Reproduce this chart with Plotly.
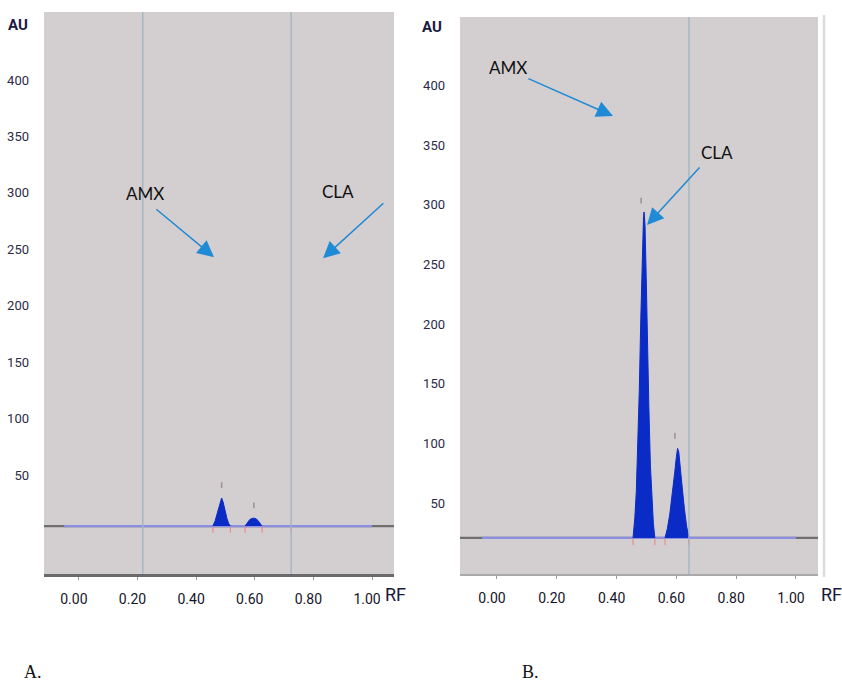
import plotly.graph_objects as go

# ---------------- data ----------------
# Panel A (sample) - densitogram
a_baseline = 4.7
a_baseline_x = [-0.12, 1.075]
a_blue_x = [-0.05, 1.00]
a_amx_x = [0.457, 0.465, 0.472, 0.479, 0.487, 0.492, 0.498, 0.505, 0.511, 0.517]
a_amx_y = [4.7, 9.5, 16.0, 23.5, 29.6, 26.0, 18.5, 11.5, 7.0, 4.7]
a_cla_x = [0.567, 0.575, 0.583, 0.592, 0.600, 0.608, 0.616, 0.625]
a_cla_y = [4.7, 8.0, 10.5, 11.6, 11.6, 10.5, 8.0, 4.7]
a_marker_x = [0.487, 0.597]
a_marker_y = [[38.5, 43.5], [20.5, 25.5]]
a_bound_x = [0.457, 0.517, 0.567, 0.625, 0.724]
a_vlines = [0.218, 0.724]

# Panel B (standard) - densitogram
b_baseline = 21.0
b_baseline_x = [-0.125, 1.075]
b_blue_x = [-0.05, 1.00]
b_amx_x = [0.455, 0.461, 0.466, 0.471, 0.476, 0.481, 0.486, 0.490, 0.492,
           0.495, 0.499, 0.503, 0.508, 0.513, 0.518, 0.523, 0.528]
b_amx_y = [21, 38, 60, 100, 145, 205, 262, 290, 294,
           283, 240, 182, 130, 82, 52, 33, 21]
b_cla_x = [0.562, 0.570, 0.578, 0.586, 0.594, 0.600, 0.604, 0.608, 0.614,
           0.620, 0.627, 0.634, 0.642]
b_cla_y = [21, 29, 41, 56, 75, 89, 96, 93, 80, 62, 45, 31, 21]
b_marker_x = [0.482, 0.595]
b_marker_y = [[301, 306], [104, 109]]
b_bound_x = [0.455, 0.528, 0.562, 0.642]
b_vlines = [0.642]

y_ticks = [50, 100, 150, 200, 250, 300, 350, 400]
x_ticks = [0.0, 0.2, 0.4, 0.6, 0.8, 1.0]
x_ticktext = ["0.00", "0.20", "0.40", "0.60", "0.80", "1.00"]

# annotation positions (data coords): (text_x, text_y, tip_x, tip_y, tail_x, tail_y)
a_labels = {"AMX": (0.225, 299.0, 0.461, 243.0, 0.259, 286.5),
            "CLA": (0.884, 301.0, 0.833, 242.0, 1.044, 292.0)}
b_labels = {"AMX": (0.037, 414.6, 0.388, 374.4, 0.100, 406.2),
            "CLA": (0.736, 343.4, 0.502, 283.1, 0.682, 332.5)}

# ---------------- styles ----------------
BG = "#d3cecf"
PEAK = "#0a2bc6"
BLUE_LINE = "#8d8fe2"
GRAY_LINE = "#6f6f6f"
VLINE = "#9fb6c0"
ARROW = "#1f8ad6"
NARROW = "Liberation Sans Narrow, Roboto, DejaVu Sans"
TICKFONT = dict(family=NARROW, size=13, color="#2b2b48")
XTICKFONT = dict(family=NARROW, size=14, color="#15152a")
LABELFONT = dict(family="Lato, Open Sans, sans-serif", size=17, color="#111111")

fig = go.Figure()


def add_panel(xa, ya, baseline, base_x, blue_x, peaks, mark_x, mark_y, bound_x):
    # baseline
    fig.add_trace(go.Scatter(x=base_x, y=[baseline, baseline], mode="lines",
                             line=dict(color=GRAY_LINE, width=2.2),
                             xaxis=xa, yaxis=ya, hoverinfo="skip", showlegend=False))
    fig.add_trace(go.Scatter(x=blue_x, y=[baseline, baseline], mode="lines",
                             line=dict(color=BLUE_LINE, width=2.2),
                             xaxis=xa, yaxis=ya, hoverinfo="skip", showlegend=False))
    for px, py in peaks:
        fig.add_trace(go.Scatter(x=px, y=py, mode="lines", fill="toself",
                                 fillcolor=PEAK, line=dict(color=PEAK, width=1),
                                 xaxis=xa, yaxis=ya, hoverinfo="skip", showlegend=False))
    for mx, my in zip(mark_x, mark_y):
        fig.add_trace(go.Scatter(x=[mx, mx], y=my, mode="lines",
                                 line=dict(color="#9a8f98", width=1.5),
                                 xaxis=xa, yaxis=ya, hoverinfo="skip", showlegend=False))
    for bx in bound_x:
        fig.add_trace(go.Scatter(x=[bx, bx], y=[baseline - 1, baseline - 6], mode="lines",
                                 line=dict(color="#f08a8a", width=1.2),
                                 xaxis=xa, yaxis=ya, hoverinfo="skip", showlegend=False))


add_panel("x", "y", a_baseline, a_baseline_x, a_blue_x,
          [(a_amx_x, a_amx_y), (a_cla_x, a_cla_y)], a_marker_x, a_marker_y, a_bound_x)
add_panel("x2", "y2", b_baseline, b_baseline_x, b_blue_x,
          [(b_amx_x, b_amx_y), (b_cla_x, b_cla_y)], b_marker_x, b_marker_y, b_bound_x)

W, H = 842, 683

common_x = dict(tickvals=x_ticks, ticktext=x_ticktext, tickfont=XTICKFONT,
                showgrid=False, zeroline=False, ticks="outside", ticklen=3,
                tickcolor="#9a9a9a", showline=True, mirror=False,
                ticklabelstandoff=7, ticklabelshift=-5, fixedrange=True)
common_y = dict(tickvals=y_ticks, tickfont=TICKFONT, showgrid=False, zeroline=False,
                ticks="", showline=False, ticklabelstandoff=14, fixedrange=True)

fig.update_layout(
    width=W, height=H, margin=dict(l=0, r=0, t=0, b=0),
    paper_bgcolor="white", plot_bgcolor=BG, showlegend=False,
    xaxis=dict(domain=[44 / W, 394 / W], range=[-0.119, 1.075], anchor="y",
               linecolor="#6a6a6a", linewidth=2.5, **common_x),
    yaxis=dict(domain=[1 - 574 / H, 1 - 12 / H], range=[-37.75, 460.2], anchor="x", **common_y),
    xaxis2=dict(domain=[460 / W, 818 / W], range=[-0.1237, 1.0736], anchor="y2",
                linecolor="#a9a9a9", linewidth=2, **common_x),
    yaxis2=dict(domain=[1 - 574 / H, 1 - 17 / H], range=[-9.21, 457.3], anchor="x2", **common_y),
)

shapes = []
for v in a_vlines:
    shapes.append(dict(type="line", xref="x", yref="y domain", x0=v, x1=v, y0=0, y1=1,
                       line=dict(color=VLINE, width=1.3)))
for v in b_vlines:
    shapes.append(dict(type="line", xref="x2", yref="y2 domain", x0=v, x1=v, y0=0, y1=1,
                       line=dict(color=VLINE, width=1.3)))
# right frame line of panel B
shapes.append(dict(type="line", xref="paper", yref="paper", x0=824 / W, x1=824 / W,
                   y0=1 - 577 / H, y1=1 - 15 / H, line=dict(color="#dcdcdc", width=2.5)))
fig.update_layout(shapes=shapes)

annotations = []
for labels, xr, yr in [(a_labels, "x", "y"), (b_labels, "x2", "y2")]:
    for name, (tx, ty, hx, hy, sx, sy) in labels.items():
        annotations.append(dict(x=tx, y=ty, xref=xr, yref=yr, text=name, showarrow=False,
                                font=LABELFONT, xanchor="center", yanchor="middle"))
        annotations.append(dict(x=hx, y=hy, xref=xr, yref=yr, ax=sx, ay=sy,
                                axref=xr, ayref=yr, text="", showarrow=True,
                                arrowhead=2, arrowsize=2.2, arrowwidth=1.5,
                                arrowcolor=ARROW))

axis_title_font = dict(family=NARROW, size=15, color="#1a1a40")
rf_font = dict(family=NARROW, size=18, color="#1a1a40")
annotations += [
    dict(x=18 / W, y=1 - 25 / H, xref="paper", yref="paper", text="<b>AU</b>", showarrow=False,
         font=axis_title_font, xanchor="center", yanchor="middle"),
    dict(x=432 / W, y=1 - 27 / H, xref="paper", yref="paper", text="<b>AU</b>", showarrow=False,
         font=axis_title_font, xanchor="center", yanchor="middle"),
    dict(x=395 / W, y=1 - 594 / H, xref="paper", yref="paper", text="RF", showarrow=False,
         font=rf_font, xanchor="center", yanchor="middle"),
    dict(x=831 / W, y=1 - 594 / H, xref="paper", yref="paper", text="RF", showarrow=False,
         font=rf_font, xanchor="center", yanchor="middle"),
    dict(x=33 / W, y=1 - 672 / H, xref="paper", yref="paper", text="A.", showarrow=False,
         font=dict(family="Liberation Serif, serif", size=18, color="#111111"),
         xanchor="center", yanchor="middle"),
    dict(x=530 / W, y=1 - 672 / H, xref="paper", yref="paper", text="B.", showarrow=False,
         font=dict(family="Liberation Serif, serif", size=18, color="#111111"),
         xanchor="center", yanchor="middle"),
]
fig.update_layout(annotations=annotations)

fig.write_html("out.html")
